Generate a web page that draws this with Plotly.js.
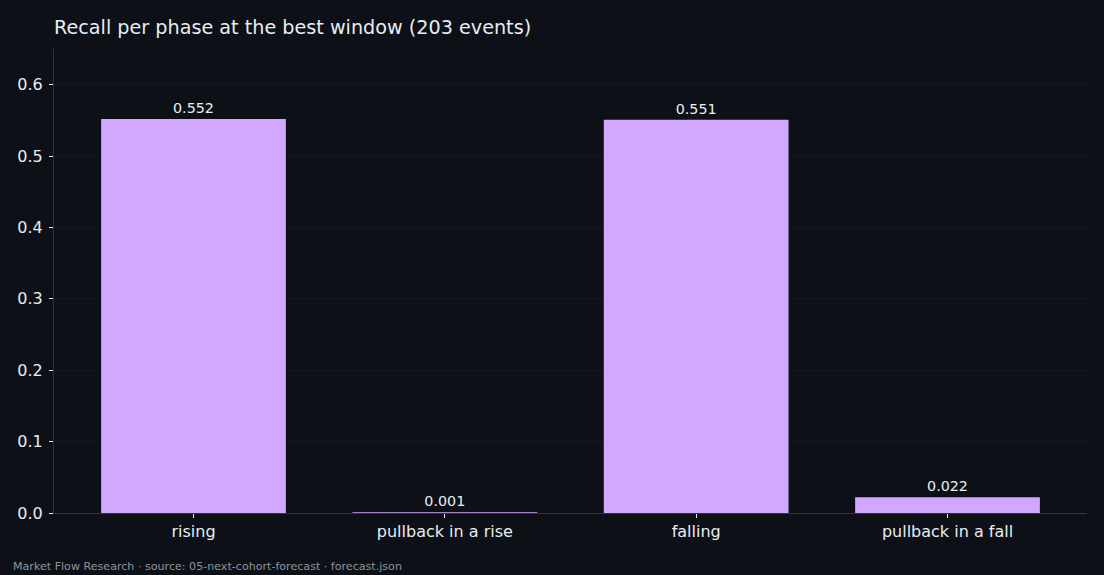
<!DOCTYPE html>
<html>
<head>
<meta charset="utf-8">
<script src="https://cdn.plot.ly/plotly-3.0.1.min.js"></script>
<style>
  html, body { margin: 0; padding: 0; background: #0d1117; }
  #chart { width: 1104px; height: 575px; }
</style>
</head>
<body>
<div id="chart"></div>
<script>
const phases = ["rising", "pullback in a rise", "falling", "pullback in a fall"];
const recall = [0.552, 0.001, 0.551, 0.022];
const recallLabels = ["0.552", "0.001", "0.551", "0.022"];
const yTicks = [0, 0.1, 0.2, 0.3, 0.4, 0.5, 0.6];
const yTickLabels = ["0.0", "0.1", "0.2", "0.3", "0.4", "0.5", "0.6"];

const font = "DejaVu Sans, sans-serif";

const trace = {
  type: "bar",
  x: phases.map((_, i) => i),
  y: recall,
  width: 0.735,
  marker: { color: "#d2a8ff", line: { width: 0 } },
  text: recallLabels,
  textposition: "outside",
  cliponaxis: false,
  textfont: { family: font, size: 14.3, color: "#e6edf3" },
  hoverinfo: "skip"
};

const layout = {
  width: 1104,
  height: 575,
  paper_bgcolor: "#0d1117",
  plot_bgcolor: "#0d1117",
  margin: { l: 54, r: 17, t: 49, b: 62 },
  showlegend: false,
  font: { family: font, color: "#e6edf3" },
  title: {
    text: "Recall per phase at the best window (203 events)",
    font: { family: font, size: 19.2, color: "#e6edf3" },
    x: 54 / 1104, xanchor: "left",
    y: 1 - 27 / 575, yanchor: "middle"
  },
  xaxis: {
    range: [-0.555, 3.555],
    tickmode: "array",
    tickvals: phases.map((_, i) => i),
    ticktext: phases,
    ticks: "outside",
    ticklen: 4,
    tickcolor: "#e6edf3",
    tickfont: { family: font, size: 16, color: "#e6edf3" },
    showgrid: false,
    zeroline: false,
    showline: true,
    linecolor: "#30363d",
    linewidth: 1
  },
  yaxis: {
    range: [0, 0.65],
    tickmode: "array",
    tickvals: yTicks,
    ticktext: yTickLabels,
    ticks: "outside",
    ticklen: 4,
    ticklabelstandoff: 3,
    tickcolor: "#e6edf3",
    tickfont: { family: font, size: 16, color: "#e6edf3" },
    showgrid: true,
    gridcolor: "#141920",
    gridwidth: 1,
    zeroline: false,
    showline: true,
    linecolor: "#30363d",
    linewidth: 1
  },
  annotations: [{
    text: "Market Flow Research · source: 05-next-cohort-forecast · forecast.json",
    xref: "paper", yref: "paper",
    x: (11 - 54) / 1033, xanchor: "left",
    y: -(566 - 513) / 464, yanchor: "middle",
    showarrow: false,
    font: { family: font, size: 11.1, color: "#8b949e" }
  }]
};

Plotly.newPlot("chart", [trace], layout, { displayModeBar: false, staticPlot: true });
</script>
</body>
</html>
